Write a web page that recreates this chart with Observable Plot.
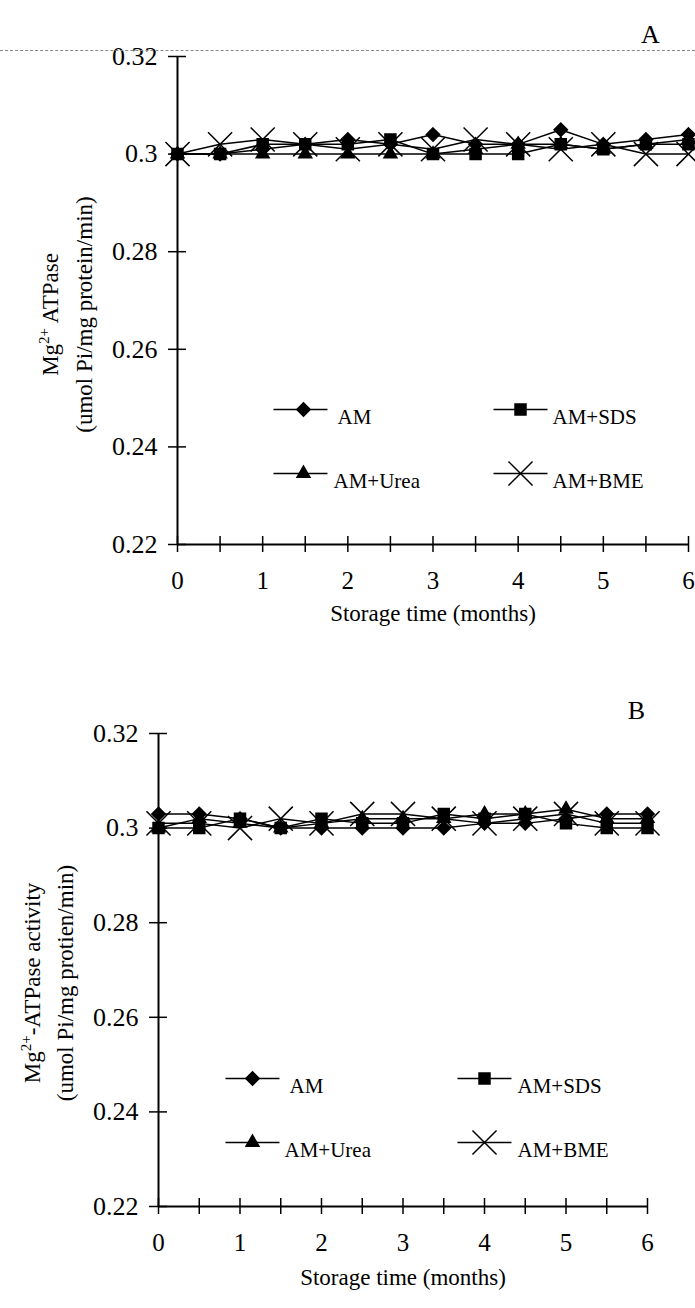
<!DOCTYPE html>
<html><head><meta charset="utf-8">
<script src="https://cdn.jsdelivr.net/npm/d3@7"></script>
<script src="https://cdn.jsdelivr.net/npm/@observablehq/plot@0.6"></script>
<style>
html,body{margin:0;padding:0;background:#fff;}
#wrap{position:relative;width:695px;height:1308px;overflow:hidden;}
.panel{position:absolute;left:0;}
#scanline{position:absolute;left:0;top:50px;width:695px;border-top:1px dashed #888;}
</style></head><body>
<div id="wrap"><div id="pa" class="panel" style="top:0"></div><div id="pb" class="panel" style="top:640px"></div><div id="scanline"></div></div>
<script>
// ---- data ----
const months = [0, 0.5, 1, 1.5, 2, 2.5, 3, 3.5, 4, 4.5, 5, 5.5, 6];
const xTickValues = [0, 1, 2, 3, 4, 5, 6];
const xTickLabels = ["0", "1", "2", "3", "4", "5", "6"];
const yTickValues = [0.22, 0.24, 0.26, 0.28, 0.30, 0.32];
const yTickLabels = ["0.22", "0.24", "0.26", "0.28", "0.3", "0.32"];
const seriesNames = ["AM", "AM+SDS", "AM+Urea", "AM+BME"];

// Panel A
const a_AM   = [0.300, 0.300, 0.301, 0.302, 0.303, 0.302, 0.304, 0.302, 0.302, 0.305, 0.302, 0.303, 0.304];
const a_SDS  = [0.300, 0.300, 0.302, 0.302, 0.302, 0.303, 0.300, 0.300, 0.300, 0.302, 0.301, 0.302, 0.302];
const a_Urea = [0.300, 0.300, 0.300, 0.300, 0.300, 0.300, 0.300, 0.301, 0.302, 0.302, 0.301, 0.302, 0.303];
const a_BME  = [0.300, 0.302, 0.303, 0.302, 0.301, 0.302, 0.301, 0.303, 0.302, 0.301, 0.302, 0.300, 0.300];
// Panel B
const b_AM   = [0.303, 0.303, 0.302, 0.300, 0.300, 0.300, 0.300, 0.300, 0.301, 0.301, 0.302, 0.303, 0.303];
const b_SDS  = [0.300, 0.300, 0.302, 0.300, 0.302, 0.301, 0.301, 0.303, 0.302, 0.303, 0.301, 0.300, 0.300];
const b_Urea = [0.300, 0.302, 0.301, 0.300, 0.301, 0.302, 0.302, 0.302, 0.303, 0.303, 0.304, 0.302, 0.302];
const b_BME  = [0.301, 0.301, 0.300, 0.302, 0.301, 0.303, 0.303, 0.302, 0.301, 0.302, 0.303, 0.301, 0.301];

// ---- helpers ----
function tidy(arrs) {
  const rows = [];
  seriesNames.forEach((s, k) => arrs[k].forEach((v, i) => rows.push({series: s, month: months[i], value: v})));
  return rows;
}
const symbolFor = {"AM": "diamond2", "AM+SDS": "square", "AM+Urea": "triangle", "AM+BME": "times"};
const rFor = {"AM": 6, "AM+SDS": 6.2, "AM+Urea": 4.8, "AM+BME": 11};
const dash = {draw(ctx) { ctx.moveTo(-27, 0); ctx.lineTo(27, 0); }};
const FONT = "'Liberation Serif', 'Times New Roman', serif";

function panel(cfg) {
  const rows = tidy(cfg.data);
  const marks = [
    Plot.ruleY([0.22], {stroke: "black", strokeWidth: 2}),
    Plot.ruleX([0], {stroke: "black", strokeWidth: 2}),
    Plot.axisY({ticks: yTickValues, tickSize: 18, dx: 9, strokeWidth: 1.5, tickFormat: () => "", label: null}),
    Plot.axisY({ticks: yTickValues, tickSize: 0, tickPadding: 20, tickFormat: (d, i) => yTickLabels[i], label: null, fontSize: 26}),
    Plot.axisX({ticks: months, tickSize: 16, dy: -8, strokeWidth: 1.5, tickFormat: () => "", label: null}),
    Plot.axisX({ticks: xTickValues, tickSize: 0, tickPadding: 27, tickFormat: (d, i) => xTickLabels[i], label: null, fontSize: 25}),
    Plot.line(rows, {x: "month", y: "value", z: "series", stroke: "black", strokeWidth: 1.5}),
    ...seriesNames.map(s => Plot.dot(rows.filter(d => d.series === s), {
      x: "month", y: "value", symbol: () => symbolFor[s], r: rFor[s], fill: "black", stroke: "black", strokeWidth: 1.5
    })),
    Plot.text([cfg.letter], {frameAnchor: "top-left", dx: cfg.letterDx, dy: cfg.letterDy, fontSize: 26, textAnchor: "middle"}),
    Plot.text([cfg.ylab1], {frameAnchor: "left", rotate: -90, dx: cfg.ylabDx1, dy: cfg.ylabDy, fontSize: 23, textAnchor: "middle"}),
    Plot.text([cfg.ylab2], {frameAnchor: "left", rotate: -90, dx: cfg.ylabDx2, dy: cfg.ylabDy, fontSize: 23, textAnchor: "middle"}),
    Plot.text([cfg.xlab], {frameAnchor: "bottom", dy: cfg.xlabDy, fontSize: 23})
  ];
  // legend
  seriesNames.forEach((s, k) => {
    const L = cfg.legend[k];
    marks.push(Plot.dot([s], {frameAnchor: "top-left", dx: L.lineX, dy: L.y, symbol: () => dash, r: 5, fill: "none", stroke: "black", strokeWidth: 1.5}));
    marks.push(Plot.dot([s], {frameAnchor: "top-left", dx: L.markX, dy: L.y, symbol: () => symbolFor[s], r: rFor[s], fill: "black", stroke: "black", strokeWidth: 1.5}));
    marks.push(Plot.text([s], {frameAnchor: "top-left", dx: L.textX, dy: L.y, textAnchor: "start", fontSize: 21}));
  });
  const chart = Plot.plot({
    width: 695, height: cfg.height,
    marginTop: cfg.mt, marginBottom: cfg.mb, marginLeft: cfg.ml, marginRight: cfg.mr,
    x: {domain: [0, 6], label: null},
    y: {domain: [0.22, 0.32], label: null},
    symbol: {type: "identity"},
    style: {fontFamily: FONT, fontSize: "22px", color: "black", background: "white", overflow: "visible"},
    marks
  });
  // superscript in y label
  chart.querySelectorAll("text").forEach(t => {
    const s = t.textContent;
    if (s.startsWith("Mg2+")) {
      const rest = s.slice(4);
      t.textContent = "";
      const ns = "http://www.w3.org/2000/svg";
      const a = document.createElementNS(ns, "tspan"); a.textContent = "Mg";
      const b = document.createElementNS(ns, "tspan"); b.textContent = "2+"; b.setAttribute("dy", "-9"); b.setAttribute("font-size", "15");
      const c = document.createElementNS(ns, "tspan"); c.textContent = rest; c.setAttribute("dy", "9");
      t.append(a, b, c);
    }
  });
  return chart;
}

document.getElementById("pa").append(panel({
  data: [a_AM, a_SDS, a_Urea, a_BME], height: 640, mt: 56, mb: 96, ml: 177, mr: 7,
  letter: "A", letterDx: 473, letterDy: -32,
  ylab1: "Mg2+ ATPase", ylab2: "(umol Pi/mg protein/min)", ylabDx1: -127, ylabDx2: -93, ylabDy: 14,
  xlab: "Storage time (months)", xlabDy: 76,
  legend: [
    {y: 353, lineX: 123, markX: 126, textX: 160},
    {y: 353, lineX: 343, markX: 343, textX: 375},
    {y: 417, lineX: 123, markX: 126, textX: 156},
    {y: 417, lineX: 343, markX: 343, textX: 375}
  ]
}));
document.getElementById("pb").append(panel({
  data: [b_AM, b_SDS, b_Urea, b_BME], height: 668, mt: 93, mb: 102, ml: 158, mr: 48,
  letter: "B", letterDx: 478, letterDy: -33,
  ylab1: "Mg2+-ATPase activity", ylab2: "(umol Pi/mg protien/min)", ylabDx1: -126, ylabDx2: -93, ylabDy: 13,
  xlab: "Storage time (months)", xlabDy: 78,
  legend: [
    {y: 345, lineX: 94, markX: 94, textX: 131},
    {y: 345, lineX: 326, markX: 326, textX: 359},
    {y: 409, lineX: 94, markX: 94, textX: 126},
    {y: 409, lineX: 326, markX: 326, textX: 359}
  ]
}));
</script>
</body></html>
